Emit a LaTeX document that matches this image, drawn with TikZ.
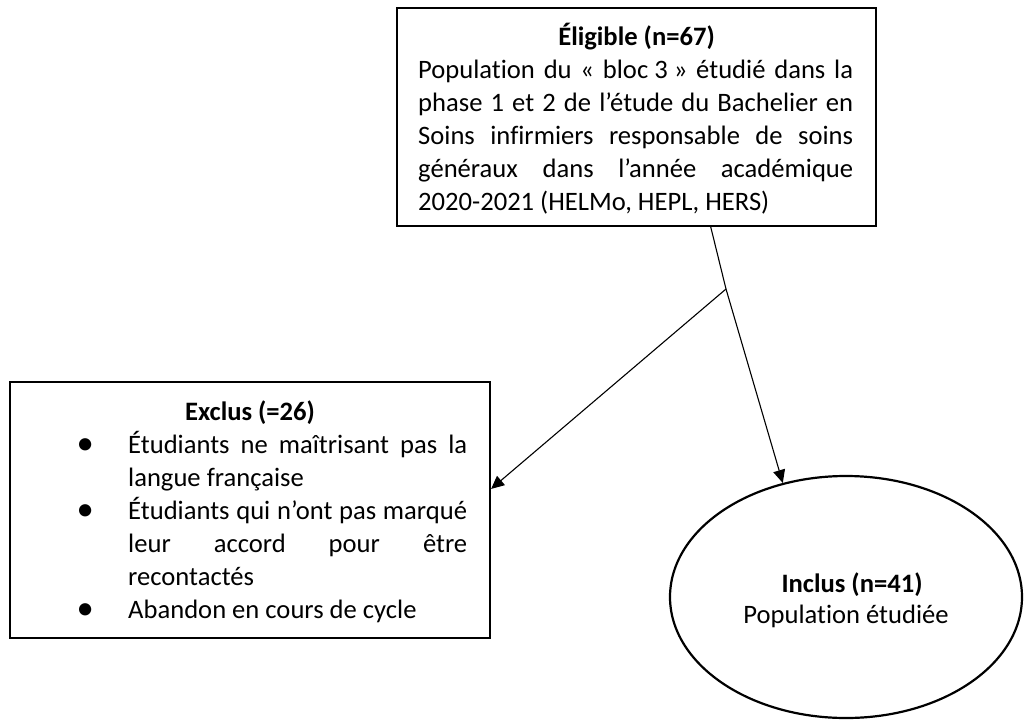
\documentclass[tikz,border=0pt]{standalone}
\usepackage{graphicx}
\usepackage{fontspec}
\setmainfont{Carlito}[Ligatures={TeX,NoCommon}]
\usetikzlibrary{arrows.meta,shapes.geometric}
\newcommand\fsz{\fontsize{26.6pt}{33pt}\selectfont}
\newcommand\bulitem{\leavevmode\llap{\makebox[86pt][c]{\raisebox{-1.6pt}{\scalebox{1.3}{\textbullet}}}}}
\newcommand\natspaces{\spaceskip=0pt\xspaceskip=0pt\relax}
\begin{document}
\begin{tikzpicture}[x=1pt,y=-1pt,
  boxstyle/.style={draw, line width=2.2pt, rectangle, inner sep=0pt},
  ellstyle/.style={draw, line width=2.2pt, ellipse, inner sep=0pt},
  txt/.style={font=\fsz, inner sep=0pt},
  ttl/.style={txt, anchor=base, font=\fsz\bfseries},
  body/.style={txt, anchor=north west, align=left},
  link/.style={line width=1.1pt},
  arr/.style={line width=1.1pt, -{Triangle[length=13pt,width=12pt]}}]
\useasboundingbox (0,0) rectangle (1025,720);

% boxes
\node[boxstyle, minimum width=479pt, minimum height=218pt] (elig) at (636.5,117) {};
\node[boxstyle, minimum width=480pt, minimum height=256pt] (excl) at (250,510) {};
\node[ellstyle, minimum width=352pt, minimum height=242pt] (incl) at (846,597) {};

% texts
\node[ttl] (eligtitle) at (636.5,45) {Éligible (n=67)};
\node[body, text width=435pt] (eligtext) at (418,55.4) {\natspaces
\strut\makebox[435pt][s]{Population du « bloc\hspace{0.226em}3\hspace{0.226em}» étudié dans la}\\
\makebox[435pt][s]{phase 1 et 2 de l’étude du Bachelier en}\\
\makebox[435pt][s]{Soins infirmiers responsable de soins}\\
\makebox[435pt][s]{généraux dans l’année académique}\\
\leavevmode 2020-2021 (HELMo, HEPL, HERS)};

\node[ttl] (excltitle) at (250,420) {Exclus (=26)};
\node[body, text width=339pt] (excltext) at (128,429.9) {\natspaces
\strut\bulitem\makebox[339pt][s]{Étudiants ne maîtrisant pas la}\\
\leavevmode langue française\\
\bulitem\makebox[339pt][s]{Étudiants qui n’ont pas marqué}\\
\makebox[339pt][s]{leur accord pour être}\\
\leavevmode recontactés\\
\bulitem Abandon en cours de cycle};

\node[ttl] (incltitle) at (852,592) {Inclus (n=41)};
\node[txt, anchor=base] (incltext) at (846,623) {Population étudiée};

% connectors
\coordinate (split) at (726,289);
\draw[link] (elig.-56.4) -- (split);
\draw[arr] (split) -- (incl.119);
\draw[arr] (split) -- (excl.5.7);
\end{tikzpicture}
\end{document}
